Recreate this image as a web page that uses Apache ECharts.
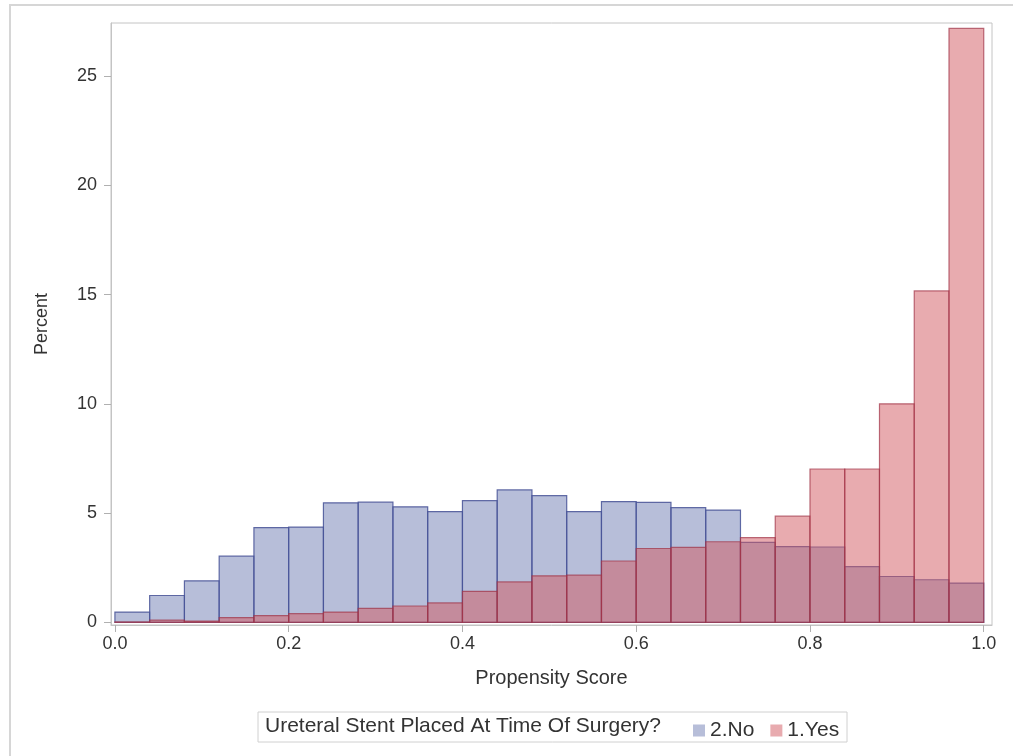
<!DOCTYPE html>
<html>
<head>
<meta charset="utf-8">
<script src="https://cdn.jsdelivr.net/npm/echarts@6/dist/echarts.min.js"></script>
<style>
  html, body { margin: 0; padding: 0; background: #fff; }
  #chart { width: 1013px; height: 756px; }
</style>
</head>
<body>
<div id="chart"></div>
<script>
// histogram bins (left edge), width 0.04
const binStart = [0.00, 0.04, 0.08, 0.12, 0.16, 0.20, 0.24, 0.28, 0.32, 0.36,
                  0.40, 0.44, 0.48, 0.52, 0.56, 0.60, 0.64, 0.68, 0.72, 0.76,
                  0.80, 0.84, 0.88, 0.92, 0.96]
const binWidth = 0.04

// 2.No
const noPct = [0.47, 1.23, 1.90, 3.03, 4.34, 4.36, 5.47, 5.50, 5.29, 5.07,
               5.57, 6.06, 5.80, 5.07, 5.53, 5.49, 5.25, 5.14, 3.66, 3.47,
               3.45, 2.55, 2.10, 1.95, 1.80]
// 1.Yes
const yesPct = [0.02, 0.10, 0.06, 0.22, 0.31, 0.40, 0.47, 0.64, 0.75, 0.89,
                1.42, 1.85, 2.13, 2.16, 2.81, 3.38, 3.43, 3.69, 3.88, 4.86,
                7.02, 7.02, 10.0, 15.17, 27.18]

const xTicks = [0, 0.2, 0.4, 0.6, 0.8, 1.0]
const yTicks = [0, 5, 10, 15, 20, 25]

const font = '"Liberation Sans", Arial, sans-serif'

const chart = echarts.init(document.getElementById('chart'))

const histSeries = (name, values, fill, stroke) => ({
  name,
  type: 'custom',
  itemStyle: { color: fill, borderColor: stroke },
  data: binStart.map((x, i) => [x, x + binWidth, values[i]]),
  encode: { x: [0, 1], y: 2 },
  renderItem: (params, api) => {
    const p0 = api.coord([api.value(0), 0])
    const p1 = api.coord([api.value(1), api.value(2)])
    return {
      type: 'rect',
      shape: { x: p0[0], y: p1[1], width: p1[0] - p0[0], height: p0[1] - p1[1] },
      style: { fill, stroke, lineWidth: 1.2 }
    }
  }
})

const option = {
  backgroundColor: '#fff',
  animation: false,
  textStyle: { fontFamily: font },
  grid: { left: 111, right: 21, top: 23, bottom: 131, show: true, borderColor: '#c4c4c4', borderWidth: 1 },
  xAxis: {
    type: 'value',
    min: -0.0045,
    max: 1.0095,
    name: 'Propensity Score',
    nameLocation: 'middle',
    nameGap: 43,
    nameTextStyle: { fontSize: 20, color: '#333', fontFamily: font },
    axisLine: { show: true, onZero: false, lineStyle: { color: '#c4c4c4' } },
    axisTick: { show: true, length: 7, lineStyle: { color: '#b0b0b0' }, customValues: xTicks },
    axisLabel: {
      fontSize: 18, color: '#333', margin: 10, fontFamily: font,
      customValues: xTicks,
      formatter: v => v.toFixed(1)
    },
    splitLine: { show: false }
  },
  yAxis: {
    type: 'value',
    min: -0.12,
    max: 27.43,
    name: 'Percent',
    nameLocation: 'middle',
    nameGap: 60,
    nameTextStyle: { fontSize: 18, color: '#333', fontFamily: font },
    axisLine: { show: true, onZero: false, lineStyle: { color: '#c4c4c4' } },
    axisTick: { show: true, length: 7, lineStyle: { color: '#b0b0b0' }, customValues: yTicks },
    axisLabel: {
      fontSize: 18, color: '#333', margin: 14, fontFamily: font,
      customValues: yTicks
    },
    splitLine: { show: false }
  },
  legend: {
    data: ['2.No', '1.Yes'],
    left: 688,
    top: 715,
    icon: 'rect',
    itemWidth: 12,
    itemHeight: 12,
    itemGap: 16,
    textStyle: { fontSize: 21, color: '#333', fontFamily: font }
  },
  graphic: [
    {
      type: 'rect',
      shape: { x: 10, y: 5, width: 1010, height: 760 },
      style: { fill: 'none', stroke: '#d6d6d6', lineWidth: 2 },
      silent: true
    },
    {
      type: 'rect',
      shape: { x: 258, y: 712, width: 589, height: 30 },
      style: { fill: 'none', stroke: '#d0d0d0', lineWidth: 1 },
      silent: true
    },
    {
      type: 'text',
      left: 265,
      top: 716,
      style: { text: 'Ureteral Stent Placed At Time Of Surgery?', fill: '#333', font: '21px ' + font },
      silent: true
    }
  ],
  series: [
    histSeries('2.No', noPct, 'rgba(111,126,179,0.5)', 'rgba(70,82,150,0.85)'),
    histSeries('1.Yes', yesPct, 'rgba(210,88,96,0.5)', 'rgba(160,50,70,0.7)')
  ]
}

chart.setOption(option)
</script>
</body>
</html>
